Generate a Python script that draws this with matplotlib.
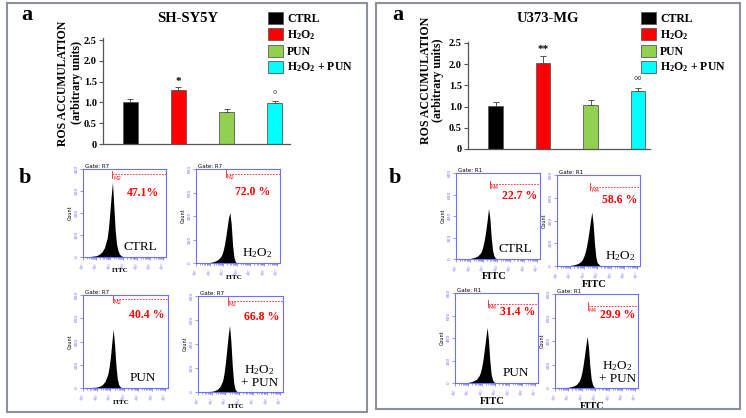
import numpy as np
import matplotlib.pyplot as plt
from matplotlib.patches import Rectangle

plt.rcParams.update({
    "font.family": ["Liberation Serif", "DejaVu Serif"],
    "mathtext.fontset": "custom",
    "mathtext.rm": "Liberation Serif",
    "mathtext.bf": "Liberation Serif:bold",
    "mathtext.it": "Liberation Serif:italic",
})

W, H = 746, 418

# ============================
# Data
# ============================
groups = ["CTRL", r"$\mathbf{H_2O_2}$", "PUN", r"$\mathbf{H_2O_2}$ + PUN"]
colors = ["#000000", "#ff0000", "#92d050", "#00ffff"]

ros_sh = [1.01, 1.31, 0.76, 0.99]
err_sh = [0.07, 0.06, 0.09, 0.04]
sig_sh = ["", "*", "", "°"]

ros_u = [1.01, 2.02, 1.03, 1.37]
err_u = [0.10, 0.18, 0.12, 0.07]
sig_u = ["", "**", "", "°°"]

# FITC histograms (log10 fluorescence, counts)
fitc_log = [1.0, 1.5, 2.0, 2.2, 2.4, 2.6, 2.8, 2.9, 3.0, 3.1, 3.2,
            3.3, 3.4, 3.5, 3.6, 3.7, 3.8, 3.9, 4.0, 4.2, 4.6, 5.0]
cnt_sh_ctrl = [0, 2, 6, 12, 22, 42, 85, 130, 200, 275, 340,
               235, 125, 62, 32, 16, 8, 4, 2, 1, 0, 0]
cnt_sh_h2o2 = [0, 1, 4, 9, 16, 28, 50, 70, 105, 155, 225,
               305, 385, 430, 330, 150, 50, 12, 3, 0, 0, 0]
cnt_sh_pun = [0, 3, 8, 15, 28, 55, 115, 175, 265, 390, 505,
              380, 200, 80, 30, 12, 5, 2, 1, 0, 0, 0]
cnt_sh_mix = [0, 2, 6, 11, 22, 44, 95, 155, 245, 355, 470,
              555, 420, 220, 80, 25, 8, 2, 0, 0, 0, 0]
cnt_u_ctrl = [0, 1, 4, 9, 16, 28, 55, 80, 125, 185, 265,
              360, 470, 380, 200, 80, 30, 10, 4, 1, 0, 0]
cnt_u_h2o2 = [0, 1, 5, 9, 15, 24, 42, 58, 85, 120, 170,
              235, 315, 400, 475, 370, 200, 80, 30, 6, 0, 0]
cnt_u_pun = [0, 2, 6, 11, 20, 33, 65, 95, 145, 215, 305,
             400, 495, 380, 200, 80, 30, 10, 4, 1, 0, 0]
cnt_u_mix = [0, 2, 6, 11, 18, 30, 58, 85, 130, 195, 275,
             360, 440, 350, 190, 80, 30, 10, 3, 1, 0, 0]

pct_sh = ["47.1%", "72.0 %", "40.4 %", "66.8 %"]
pct_u = ["22.7 %", "58.6 %", "31.4 %", "29.9 %"]
gate_start_sh = [3.2, 3.22, 3.2, 3.2]
gate_start_u = [3.5, 3.5, 3.45, 3.45]
hist_labels = ["CTRL", r"$\mathrm{H_2O_2}$", "PUN", r"$\mathrm{H_2O_2}$" + "\n+ PUN"]


# ============================
# Helpers
# ============================
def box(x0, y0, x1, y1):
    return [x0 / W, 1 - y1 / H, (x1 - x0) / W, (y1 - y0) / H]


def ftext(x, y, s, **kw):
    fig.text(x / W, 1 - y / H, s, **kw)


fig = plt.figure(figsize=(7.46, 4.18), dpi=100)

for (x0, y0, x1, y1) in [(7, 3, 367, 412), (376, 3, 740, 409)]:
    fig.add_artist(Rectangle((x0 / W, 1 - y1 / H), (x1 - x0) / W, (y1 - y0) / H,
                             fill=False, ec="#8c919b", lw=1.5,
                             transform=fig.transFigure))


def bar_panel(rect, xlim, ylim, vals, errs, sigs, leg_xy):
    ax = fig.add_axes(box(*rect))
    x = np.arange(len(vals))
    for i in range(len(vals)):
        ax.bar(x[i], vals[i], width=0.31, color=colors[i], edgecolor="#5a5a5a",
               lw=0.6, label=groups[i])
    ax.errorbar(x, vals, yerr=[np.zeros(len(errs)), errs], fmt="none",
                ecolor="#555555", elinewidth=0.7, capsize=2, capthick=0.7)
    for i, s in enumerate(sigs):
        if s:
            ax.text(x[i], vals[i] + errs[i] + 0.03, s, ha="center", va="bottom",
                    fontsize=8, fontweight="bold" if "*" in s else "normal")
    ax.set_xlim(*xlim)
    ax.set_ylim(*ylim)
    ax.set_xticks([])
    ax.set_yticks([0, 0.5, 1.0, 1.5, 2.0, 2.5])
    ax.set_yticklabels(["0", "0.5", "1.0", "1.5", "2.0", "2.5"],
                       fontweight="bold", fontsize=7.5)
    ax.tick_params(axis="y", length=3, width=0.8, color="#555555", pad=1.5)
    for sp in ["top", "right"]:
        ax.spines[sp].set_visible(False)
    for sp in ["left", "bottom"]:
        ax.spines[sp].set_color("#555555")
        ax.spines[sp].set_linewidth(0.9)
    fig.legend(*ax.get_legend_handles_labels(), loc="upper left",
               bbox_to_anchor=(leg_xy[0] / W, 1 - leg_xy[1] / H),
               frameon=False, borderpad=0, borderaxespad=0,
               handlelength=1.27, handleheight=1.19, handletextpad=0.35,
               labelspacing=0.25, prop={"weight": "bold", "size": 8.5})
    return ax


bar_panel((103, 38, 290, 144), (-0.57, 3.32), (0, 2.55),
          ros_sh, err_sh, sig_sh, (268, 12))
bar_panel((468, 42, 650, 149), (-0.58, 3.25), (0, 2.52),
          ros_u, err_u, sig_u, (641, 12))

ftext(188, 18, "SH-SY5Y", ha="center", va="center", fontsize=10.5, fontweight="bold")
ftext(548, 18, "U373-MG", ha="center", va="center", fontsize=10.5, fontweight="bold")
for (x, y, s) in [(27, 15, "a"), (398, 15, "a"), (25, 178, "b"), (395, 178, "b")]:
    ftext(x, y, s, ha="center", va="center", fontsize=16, fontweight="bold")
ftext(70, 83, "ROS ACCUMULATION\n(arbitrary units)", rotation=90, ha="center",
      va="center", fontsize=8.5, fontweight="bold", linespacing=1.25)
ftext(432, 80, "ROS ACCUMULATION\n(arbitrary units)", rotation=90, ha="center",
      va="center", fontsize=8.6, fontweight="bold", linespacing=1.0)

# ============================
# Histograms
# ============================
BLUE = "#6f6fff"
minor = [d + np.log10(k) for d in range(1, 7) for k in range(2, 10)]


def hist_panel(rect, counts, ymax, gate, mname, mstart, my, pct, pct_xy,
               lbl, lbl_xy, fitc_size):
    ax = fig.add_axes(box(*rect))
    ax.fill_between(fitc_log, 0, counts, color="black", lw=0)
    ax.set_xlim(1, 7.2)
    ax.set_ylim(0, ymax)
    for sp in ax.spines.values():
        sp.set_color(BLUE)
        sp.set_linewidth(0.8)
    ax.set_xticks(range(1, 8))
    ax.set_xticklabels([f"$10^{d}$" for d in range(1, 8)], rotation=60,
                       fontsize=3.2, color=BLUE, family="DejaVu Sans")
    ax.set_xticks(minor, minor=True)
    step = ymax // 4
    ax.set_yticks(range(0, ymax + 1, step))
    ax.set_yticklabels([str(v) for v in range(0, ymax + 1, step)], rotation=90,
                       fontsize=3.2, color=BLUE, family="DejaVu Sans", va="center")
    ax.tick_params(which="both", color=BLUE, length=2, width=0.5, pad=1)
    ax.tick_params(which="minor", length=1.2)
    ax.set_ylabel("Count", fontsize=3.5, family="DejaVu Sans", labelpad=1.5)
    ax.set_xlabel("FITC", fontsize=fitc_size, fontweight="bold", labelpad=1)
    ax.xaxis.set_label_coords(0.45, -0.13 if fitc_size < 6 else -0.15)
    ax.text(0.02, 1.005, gate, transform=ax.transAxes, fontsize=4,
            family="DejaVu Sans", va="bottom")
    tr = ax.get_xaxis_transform()
    red = "#ff2020"
    ax.plot([mstart, 7.18], [my, my], color=red, lw=0.6, ls=(0, (2, 1.5)),
            transform=tr)
    ax.plot([mstart, mstart], [my - 0.04, my + 0.04], color=red, lw=0.6, transform=tr)
    ax.plot([7.18, 7.18], [my - 0.04, my + 0.04], color=red, lw=0.8, transform=tr)
    ax.text(mstart + 0.05, my - 0.015, mname, transform=tr, fontsize=4,
            color=red, family="DejaVu Sans", va="top")
    ax.text(*pct_xy, pct, transform=ax.transAxes, ha="center", va="center",
            color="red", fontsize=8.5, fontweight="bold")
    ax.text(*lbl_xy, lbl, transform=ax.transAxes, ha="center", va="center",
            fontsize=9.5, linespacing=1.0)


rects_sh = [(83, 169, 166, 257), (196, 169, 280, 263),
            (83, 295, 168, 388), (198, 296, 283, 392)]
rects_u = [(456, 173, 540, 259), (557, 175, 640, 266),
           (455, 293, 538, 383), (555, 294, 638, 388)]
ymax_sh = [400, 800, 800, 800]
my_sh = [0.94, 0.95, 0.96, 0.95]
my_u = [0.87, 0.87, 0.88, 0.87]
pct_pos_sh = [(0.72, 0.73), (0.67, 0.755), (0.75, 0.78), (0.75, 0.78)]
pct_pos_u = [(0.76, 0.73), (0.75, 0.725), (0.76, 0.79), (0.76, 0.78)]
lbl_pos_sh = [(0.69, 0.11), (0.73, 0.10), (0.70, 0.11), (0.72, 0.17)]
lbl_pos_u = [(0.71, 0.12), (0.76, 0.11), (0.73, 0.11), (0.75, 0.17)]
counts_sh = [cnt_sh_ctrl, cnt_sh_h2o2, cnt_sh_pun, cnt_sh_mix]
counts_u = [cnt_u_ctrl, cnt_u_h2o2, cnt_u_pun, cnt_u_mix]

for i in range(4):
    hist_panel(rects_sh[i], counts_sh[i], ymax_sh[i], "Gate: R7", "M2",
               gate_start_sh[i], my_sh[i], pct_sh[i], pct_pos_sh[i],
               hist_labels[i], lbl_pos_sh[i], 5)
    hist_panel(rects_u[i], counts_u[i], 800, "Gate: R1", "M4",
               gate_start_u[i], my_u[i], pct_u[i], pct_pos_u[i],
               hist_labels[i], lbl_pos_u[i], 7.5)

fig.savefig("out.png", dpi=100)
